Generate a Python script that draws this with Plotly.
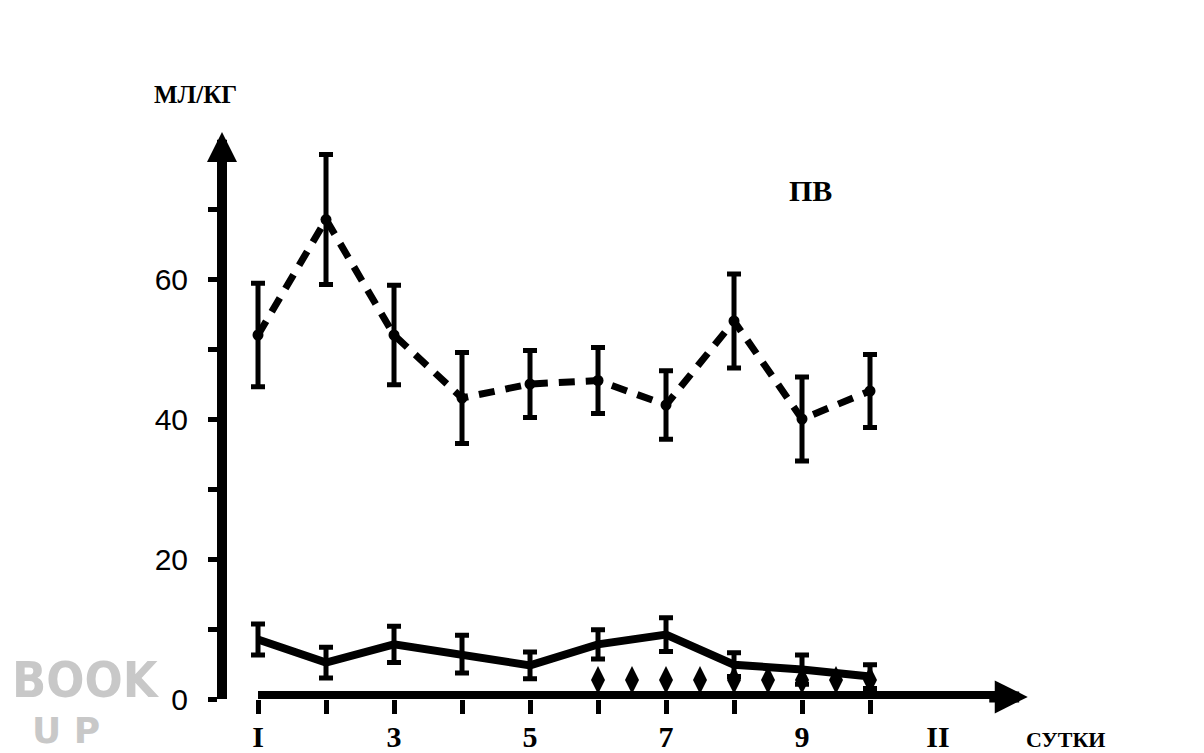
import plotly.graph_objects as go

# ---- data ----
days = [1, 2, 3, 4, 5, 6, 7, 8, 9, 10]
pv_mean = [52, 68.5, 52, 43, 45, 45.5, 42, 54, 40, 44]
pv_err = [7.4, 9.3, 7.1, 6.5, 4.8, 4.7, 4.9, 6.7, 6.0, 5.2]
low_mean = [8.5, 5.2, 7.8, 6.4, 4.8, 7.8, 9.2, 4.9, 4.2, 3.2]
low_err = [2.2, 2.2, 2.6, 2.7, 1.9, 2.1, 2.4, 1.7, 2.1, 1.7]
arrow_days = [6, 6.5, 7, 7.5, 8, 8.5, 9, 9.5, 10]
arrow_level = [2.7] * len(arrow_days)

x_tick_marks = [1, 2, 3, 4, 5, 6, 7, 8, 9, 10]
x_label_vals = [1, 3, 5, 7, 9, 11]
x_label_text = ["I", "3", "5", "7", "9", "II"]
y_tick_vals = [0, 10, 20, 30, 40, 50, 60, 70]
y_tick_text = ["0", "", "20", "", "40", "", "60", ""]

X_RANGE = [0.544, 12.794]
Y_RANGE = [0, 79.86]
INK = "#000000"

fig = go.Figure()

fig.add_trace(go.Scatter(
    x=days, y=pv_mean, mode="lines+markers", name="ПВ",
    line=dict(color=INK, width=7, dash="16px,11px"),
    marker=dict(color=INK, size=11),
    error_y=dict(type="data", array=pv_err, visible=True, color=INK, thickness=5, width=7),
    cliponaxis=False, showlegend=False,
))
fig.add_trace(go.Scatter(
    x=days, y=low_mean, mode="lines", name="low",
    line=dict(color=INK, width=8),
    error_y=dict(type="data", array=low_err, visible=True, color=INK, thickness=5, width=7),
    cliponaxis=False, showlegend=False,
))
fig.add_trace(go.Scatter(
    x=arrow_days, y=arrow_level, mode="markers", name="marks",
    marker=dict(color=INK, size=20, symbol="diamond-tall"),
    cliponaxis=False, showlegend=False,
))
# invisible trace on second x axis so its labels render
fig.add_trace(go.Scatter(x=[X_RANGE[0]], y=[0], xaxis="x2", mode="markers",
                         marker=dict(opacity=0), showlegend=False, hoverinfo="skip"))

# x axis line (starts at day 1) and arrowheads
fig.add_shape(type="line", xref="x", yref="y", x0=1, x1=11.9, y0=0.3, y1=0.3,
              line=dict(color=INK, width=12))
fig.add_annotation(xref="x", yref="y", x=12.32, y=0.3, ax=-40, ay=0, text="",
                   showarrow=True, arrowhead=2, arrowsize=0.6, arrowwidth=11, arrowcolor=INK)
fig.add_annotation(xref="paper", yref="paper", x=-0.006, y=1.0143, ax=0, ay=40, text="",
                   showarrow=True, arrowhead=2, arrowsize=0.6, arrowwidth=10, arrowcolor=INK)

fig.add_annotation(xref="paper", yref="paper", x=-0.038, y=1.082, text="<b>МЛ/КГ</b>",
                   showarrow=False, xanchor="center", yanchor="middle",
                   font=dict(family="Liberation Serif", color=INK, size=25))
fig.add_annotation(xref="x", yref="y", x=9.12, y=72.6, text="<b>ПВ</b>",
                   showarrow=False, font=dict(family="Liberation Serif", color=INK, size=30))
fig.add_annotation(xref="paper", yref="paper", x=1.007, y=-0.072, text="<b>СУТКИ</b>",
                   showarrow=False, xanchor="center", yanchor="middle",
                   font=dict(family="Liberation Serif", color=INK, size=22))
# watermark
fig.add_annotation(xref="paper", yref="paper", x=-0.2605, y=0.034, text="<b>BOOK</b>",
                   showarrow=False, xanchor="left", yanchor="middle",
                   font=dict(family="DejaVu Sans Condensed", color="#c8c8c8", size=50))
fig.add_annotation(xref="paper", yref="paper", x=-0.2365, y=-0.057, text="<b>U P</b>",
                   showarrow=False, xanchor="left", yanchor="middle",
                   font=dict(family="DejaVu Sans", color="#c8c8c8", size=36))

# page body adds an 8px offset, so margins are set 8px smaller on top/left
fig.update_layout(
    width=1204, height=753,
    margin=dict(l=219, r=152, t=132, b=62, autoexpand=False),
    paper_bgcolor="white", plot_bgcolor="white",
    xaxis=dict(range=X_RANGE, tickmode="array", tickvals=x_tick_marks, automargin=False,
               showticklabels=False, ticks="outside", ticklen=14, tickwidth=5,
               tickcolor=INK, showgrid=False, zeroline=False, showline=False),
    xaxis2=dict(range=X_RANGE, overlaying="x", side="bottom", tickmode="array",
                tickvals=x_label_vals, ticktext=x_label_text, ticks="", automargin=False,
                showgrid=False, zeroline=False, showline=False, ticklabelstandoff=17,
                tickfont=dict(family="Liberation Serif", size=30, color=INK, weight="bold")),
    yaxis=dict(range=Y_RANGE, tickmode="array", tickvals=y_tick_vals, ticktext=y_tick_text,
               ticks="outside", ticklen=9, tickwidth=5, tickcolor=INK, automargin=False,
               showline=True, linewidth=10, linecolor=INK, ticklabelstandoff=14,
               showgrid=False, zeroline=False,
               tickfont=dict(family="Liberation Sans", size=30, color=INK)),
)

fig.write_html("out.html")
